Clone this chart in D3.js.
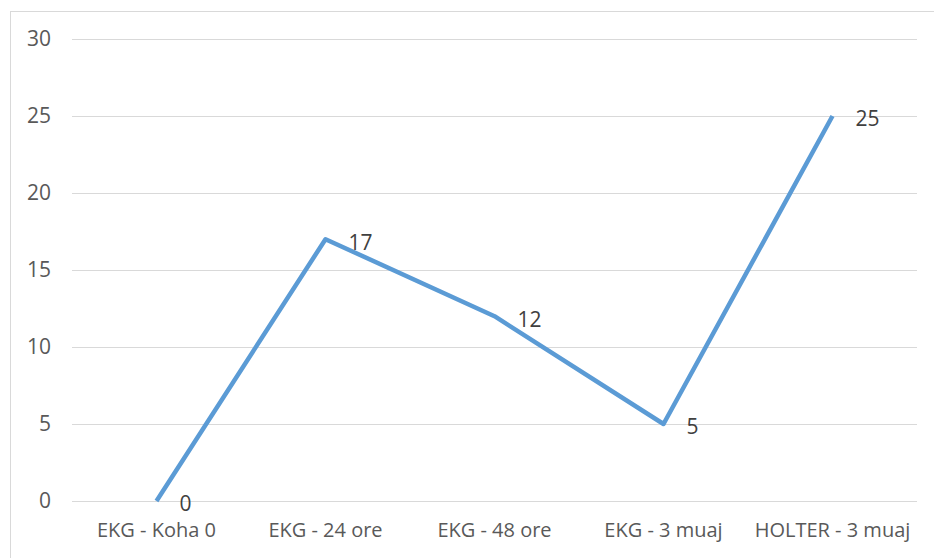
<!DOCTYPE html>
<html>
<head>
<meta charset="utf-8">
<script src="https://cdn.jsdelivr.net/npm/d3@7"></script>
<style>
  body { margin: 0; background: #fff; }
  svg { display: block; font-family: "Open Sans", "Noto Sans", sans-serif; }
</style>
</head>
<body>
<main></main>
<script>
// データ
const categories = ["EKG - Koha 0", "EKG - 24 ore", "EKG - 48 ore", "EKG - 3 muaj", "HOLTER - 3 muaj"];
const values = [0, 17, 12, 5, 25];
const yTicks = [0, 5, 10, 15, 20, 25, 30];

const width = 934, height = 558;
const margin = { left: 72, right: 17, top: 39, bottom: 57 };

const svg = d3.select("main").append("svg")
    .attr("width", width)
    .attr("height", height);

// 外枠
svg.append("rect")
    .attr("x", 10.5).attr("y", 11.5)
    .attr("width", width).attr("height", height)
    .attr("fill", "none")
    .attr("stroke", "#d9d9d9");

const x = d3.scaleBand()
    .domain(categories)
    .range([margin.left, width - margin.right]);

const y = d3.scaleLinear()
    .domain([0, 30])
    .range([height - margin.bottom, margin.top]);

// グリッド線
svg.append("g")
    .selectAll("line")
    .data(yTicks)
    .enter().append("line")
    .attr("x1", margin.left)
    .attr("x2", width - margin.right)
    .attr("y1", d => Math.round(y(d)) + 0.5)
    .attr("y2", d => Math.round(y(d)) + 0.5)
    .attr("stroke", "#d9d9d9")
    .attr("stroke-width", 1);

// Y軸ラベル
svg.append("g")
    .selectAll("text")
    .data(yTicks)
    .enter().append("text")
    .attr("x", 51)
    .attr("y", d => y(d))
    .attr("dy", "0.35em")
    .attr("text-anchor", "end")
    .attr("fill", "#595959")
    .style("font-size", "21px")
    .text(d => d);

// X軸ラベル
svg.append("g")
    .selectAll("text")
    .data(categories)
    .enter().append("text")
    .attr("x", d => x(d) + x.bandwidth() / 2)
    .attr("y", height - margin.bottom + 29)
    .attr("dy", "0.35em")
    .attr("text-anchor", "middle")
    .attr("fill", "#595959")
    .style("font-size", "20px")
    .text(d => d);

// 折れ線
const line = d3.line()
    .x((d, i) => x(categories[i]) + x.bandwidth() / 2)
    .y(d => y(d));

svg.append("path")
    .datum(values)
    .attr("d", line)
    .attr("fill", "none")
    .attr("stroke", "#5b9bd5")
    .attr("stroke-width", 4.5)
    .attr("stroke-linejoin", "round");

// データラベル
svg.append("g")
    .selectAll("text")
    .data(values)
    .enter().append("text")
    .attr("x", (d, i) => x(categories[i]) + x.bandwidth() / 2 + 23)
    .attr("y", d => y(d) + 3)
    .attr("dy", "0.35em")
    .attr("fill", "#404040")
    .style("font-size", "21px")
    .text(d => d);
</script>
</body>
</html>
